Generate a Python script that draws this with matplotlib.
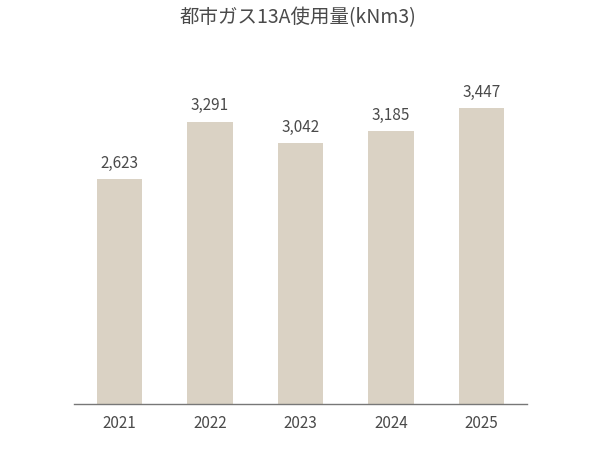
import matplotlib
matplotlib.use("Agg")
import matplotlib.pyplot as plt

plt.rcParams["font.family"] = ["Noto Sans CJK JP", "DejaVu Sans"]

years = ["2021", "2022", "2023", "2024", "2025"]
usage = [2623, 3291, 3042, 3185, 3447]

bar_color = "#dad2c4"
text_color = "#4a4a4a"

fig = plt.figure(figsize=(5.96, 4.63), dpi=100)
ax = fig.add_axes([0.1242, 0.1274, 0.76, 0.741])

x = range(len(years))
bars = ax.bar(x, usage, width=0.5, color=bar_color)

for xi, v in zip(x, usage):
    ax.text(xi, v + 85, f"{v:,}", ha="center", va="bottom",
            fontsize=11, color=text_color)

ax.set_xlim(-0.5, len(years) - 0.5)
ax.set_ylim(0, 4000)
ax.set_xticks(list(x))
ax.set_xticklabels(years, fontsize=11, color=text_color)
ax.tick_params(axis="x", length=0, pad=8)
ax.set_yticks([])
for side in ["top", "right", "left"]:
    ax.spines[side].set_visible(False)
ax.spines["bottom"].set_color("#777777")
ax.spines["bottom"].set_linewidth(1.0)

fig.text(0.5, 1 - 18 / 463, "都市ガス13A使用量(kNm3)", ha="center", va="center",
         fontsize=14, color=text_color)

fig.savefig("out.png", dpi=100)
